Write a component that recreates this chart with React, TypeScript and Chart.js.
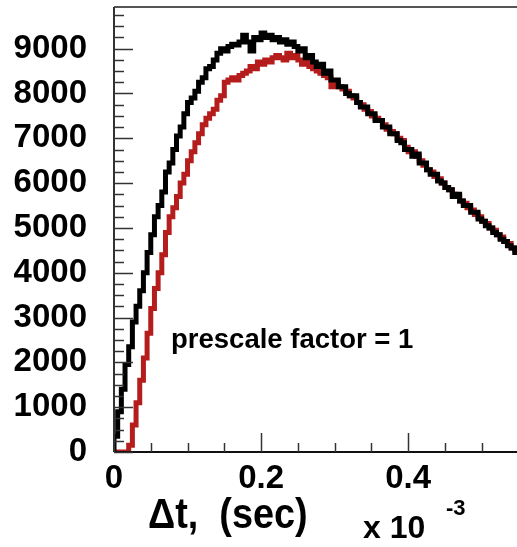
import React, { useEffect, useRef } from "react";
import { Chart, registerables } from "chart.js";

Chart.register(...registerables);

// Histogram binning (left bin edges, in units of 1e-3 s)
const BIN_WIDTH = 0.005;
const X_MIN = 0;
const X_MAX = 0.548;
const Y_MIN = 0;
const Y_MAX = 9930;

const X_TICKS = [0, 0.2, 0.4];
const X_TICK_LABELS = ["0", "0.2", "0.4"];
const Y_TICKS = [0, 1000, 2000, 3000, 4000, 5000, 6000, 7000, 8000, 9000];
const Y_TICK_LABELS = ["0", "1000", "2000", "3000", "4000", "5000", "6000", "7000", "8000", "9000"];

// Black histogram counts per bin (starting at 0, width 0.005)
const BLACK_COUNTS = [
  350, 900, 1400, 1950, 2350, 2900, 3250, 3600, 4000, 4450,
  4850, 5250, 5500, 5800, 6250, 6450, 6750, 7050, 7250, 7550,
  7800, 7900, 8050, 8250, 8350, 8550, 8600, 8750, 8900, 9000,
  8950, 9050, 9100, 9080, 9150, 9300, 9150, 8950, 9250, 9200,
  9350, 9250, 9300, 9200, 9250, 9150, 9200, 9100, 9150, 9050,
  8950, 9000, 8800, 8850, 8700, 8600, 8650, 8450, 8500, 8300,
  8300, 8150, 8150, 8000, 7950, 7950, 7800, 7700, 7700, 7550,
  7550, 7400, 7400, 7250, 7250, 7100, 7100, 6950, 6900, 6750,
  6750, 6600, 6650, 6450, 6450, 6300, 6200, 6200, 6050, 6000,
  5900, 5850, 5700, 5750, 5600, 5500, 5500, 5350, 5350, 5200,
  5150, 5050, 5000, 4900, 4850, 4750, 4700, 4600, 4550, 4450,
];

// Red histogram counts per bin
const RED_COUNTS = [
  0, 0, 0, 0, 150, 600, 1100, 1600, 2100, 2650,
  3200, 3650, 4000, 4400, 4900, 5250, 5450, 5700, 6000, 6200,
  6500, 6700, 6900, 7100, 7300, 7450, 7550, 7650, 7850, 7950,
  8250, 8300, 8350, 8300, 8400, 8450, 8500, 8600, 8550, 8700,
  8650, 8750, 8700, 8800, 8850, 8800, 8750, 8900, 8800, 8850,
  8750, 8650, 8700, 8600, 8550, 8500, 8450, 8400, 8350, 8150,
  8250, 8150, 8100, 8050, 7950, 7900, 7800, 7750, 7650, 7600,
  7500, 7450, 7400, 7300, 7200, 7150, 7100, 7000, 6950, 6800,
  6700, 6700, 6600, 6500, 6400, 6300, 6250, 6150, 6100, 6000,
  5900, 5850, 5750, 5700, 5600, 5550, 5450, 5400, 5300, 5250,
  5150, 5100, 5000, 4950, 4850, 4800, 4700, 4650, 4550, 4500,
];

const ANNOTATION = "prescale factor = 1";
const X_TITLE = "\u0394t,  (sec)";
const X_EXP_BASE = "x 10";
const X_EXP = "-3";

const FONT = '"Liberation Sans", Arial, Helvetica, sans-serif';

function toSteps(counts: number[]) {
  const pts: { x: number; y: number }[] = [{ x: 0, y: 0 }];
  counts.forEach((c, i) => pts.push({ x: i * BIN_WIDTH, y: c }));
  pts.push({ x: counts.length * BIN_WIDTH, y: counts[counts.length - 1] });
  return pts;
}

const framePlugin = {
  id: "rootFrame",
  afterDatasetsDraw(chart: any) {
    const { ctx, chartArea: a, scales } = chart;
    const xs = scales.x;
    const ys = scales.y;
    ctx.save();
    ctx.strokeStyle = "#555";
    ctx.lineWidth = 2;
    ctx.beginPath();
    ctx.moveTo(a.left, a.top);
    ctx.lineTo(a.right, a.top);
    ctx.stroke();
    ctx.strokeStyle = "#333";
    ctx.beginPath();
    ctx.moveTo(a.left, a.top);
    ctx.lineTo(a.left, a.bottom);
    ctx.stroke();
    ctx.strokeStyle = "#111";
    ctx.beginPath();
    ctx.moveTo(a.left, a.bottom);
    ctx.lineTo(a.right, a.bottom);
    ctx.stroke();

    ctx.lineWidth = 1.5;
    ctx.strokeStyle = "#333";
    for (let v = 0; v <= Y_MAX; v += 250) {
      const y = Math.round(ys.getPixelForValue(v)) + 0.5;
      const major = v % 1000 === 0;
      ctx.beginPath();
      ctx.moveTo(a.left, y);
      ctx.lineTo(a.left + (major ? 19 : 10), y);
      ctx.stroke();
    }
    for (let k = 0; k * 0.05 <= X_MAX + 1e-9; k++) {
      const x = Math.round(xs.getPixelForValue(k * 0.05)) + 0.5;
      const major = k % 4 === 0;
      ctx.beginPath();
      ctx.moveTo(x, a.bottom);
      ctx.lineTo(x, a.bottom - (major ? 19 : 9));
      ctx.stroke();
    }

    ctx.fillStyle = "#000";
    ctx.textAlign = "left";
    ctx.textBaseline = "alphabetic";
    ctx.font = `bold 27.5px ${FONT}`;
    ctx.fillText(ANNOTATION, 171, 348);
    // axis title, slightly condensed like the original
    ctx.save();
    ctx.translate(148, 528);
    ctx.scale(0.88, 1);
    ctx.font = `bold 43px ${FONT}`;
    ctx.fillText(X_TITLE, 0, 0);
    ctx.restore();
    ctx.font = `bold 32px ${FONT}`;
    ctx.fillText(X_EXP_BASE, 363, 538);
    ctx.font = `bold 22px ${FONT}`;
    ctx.fillText(X_EXP, 446, 515);
    ctx.restore();
  },
};

export default function App() {
  const ref = useRef<HTMLCanvasElement | null>(null);

  useEffect(() => {
    if (!ref.current) return;
    const chart = new Chart(ref.current, {
      type: "line",
      data: {
        datasets: [
          {
            label: "black",
            data: toSteps(BLACK_COUNTS),
            borderColor: "#000000",
            borderWidth: 5,
            stepped: true,
            pointRadius: 0,
            fill: false,
          },
          {
            label: "red",
            data: toSteps(RED_COUNTS),
            borderColor: "#b51c1c",
            borderWidth: 5,
            stepped: true,
            pointRadius: 0,
            fill: false,
          },
        ],
      },
      options: {
        animation: false,
        responsive: false,
        devicePixelRatio: 1,
        layout: { padding: { top: 7, right: 0, left: 0, bottom: 0 } },
        plugins: {
          legend: { display: false },
          tooltip: { enabled: false },
        },
        scales: {
          x: {
            type: "linear",
            min: X_MIN,
            max: X_MAX,
            grid: { display: false },
            border: { display: false },
            afterBuildTicks: (s: any) => {
              s.ticks = X_TICKS.map((v) => ({ value: v }));
            },
            afterFit: (s: any) => {
              s.height = 95;
              s.paddingLeft = 0;
              s.paddingRight = 0;
            },
            ticks: {
              autoSkip: false,
              maxRotation: 0,
              padding: -1,
              color: "#000",
              font: { family: FONT, size: 33, weight: "bold" },
              callback: (_v: any, i: number) => X_TICK_LABELS[i] ?? "",
            },
          },
          y: {
            type: "linear",
            min: Y_MIN,
            max: Y_MAX,
            grid: { display: false },
            border: { display: false },
            afterBuildTicks: (s: any) => {
              s.ticks = Y_TICKS.map((v) => ({ value: v }));
            },
            afterFit: (s: any) => {
              s.width = 114;
              s.paddingTop = 0;
              s.paddingBottom = 0;
            },
            ticks: {
              autoSkip: false,
              padding: 19,
              color: "#000",
              font: { family: FONT, size: 33, weight: "bold" },
              callback: (_v: any, i: number) => Y_TICK_LABELS[i] ?? "",
            },
          },
        },
      },
      plugins: [framePlugin],
    });
    return () => chart.destroy();
  }, []);

  return (
    <div style={{ position: "fixed", left: 0, top: 0, width: 517, height: 547, background: "#fff" }}>
      <canvas ref={ref} width={517} height={547} style={{ width: 517, height: 547, display: "block" }} />
    </div>
  );
}
